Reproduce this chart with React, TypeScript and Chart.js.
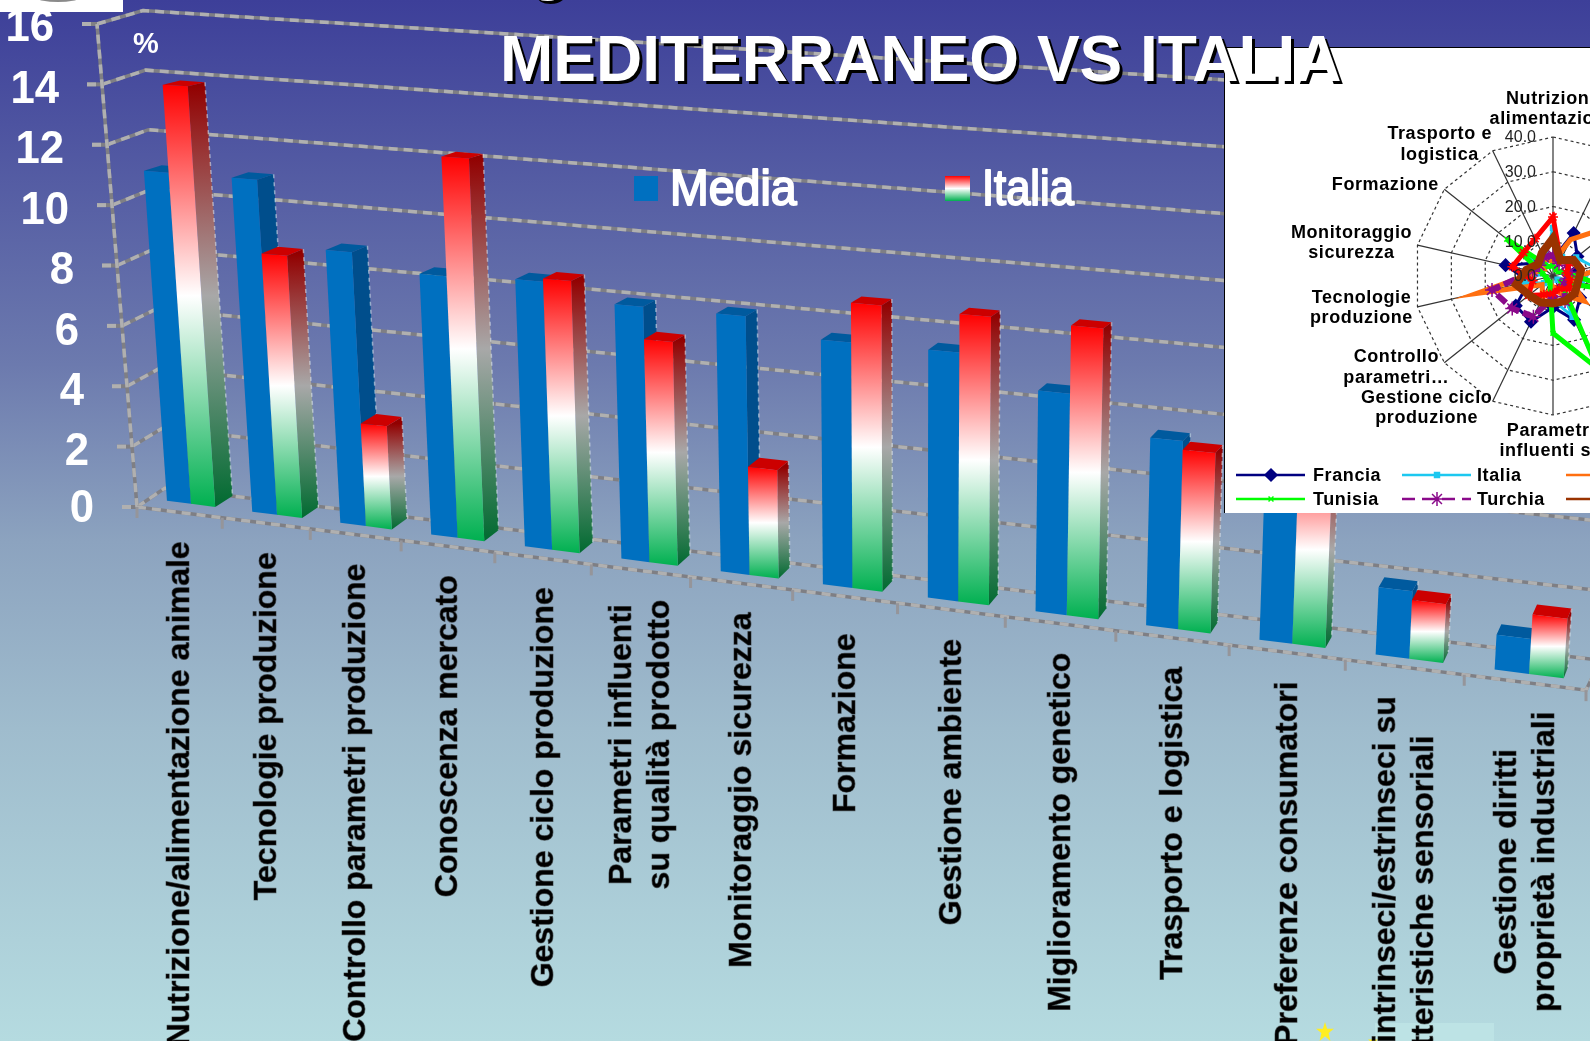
import React, { useEffect, useRef } from "react";
import { Chart, registerables } from "chart.js";
import { drawPoint } from "chart.js/helpers";

Chart.register(...registerables);

const categories = [
  "Nutrizione/alimentazione animale",
  "Tecnologie produzione",
  "Controllo parametri produzione",
  "Conoscenza mercato",
  "Gestione ciclo produzione",
  "Parametri influenti\nsu qualità prodotto",
  "Monitoraggio sicurezza",
  "Formazione",
  "Gestione ambiente",
  "Miglioramento genetico",
  "Trasporto e logistica",
  "Preferenze consumatori",
  "Fattori intrinseci/estrinseci su\ncaratteristiche sensoriali",
  "Gestione diritti\nproprietà industriali",
];
const mediaValues = [10.9, 10.9, 8.8, 8.3, 8.4, 7.9, 7.9, 7.4, 7.4, 6.5, 5.45, 5.0, 1.9, 0.97];
const italiaValues = [13.8, 8.5, 3.3, 12.1, 8.5, 6.9, 3.3, 8.6, 8.55, 8.5, 5.2, 5.5, 1.65, 1.65];

const radarLabels = [
  "Nutrizione\nalimentazione",
  "Preferenze\nconsumatori",
  "Miglioramento\ngenetico",
  "Conoscenza\nmercato",
  "Gestione\nambiente",
  "Gestione\ndiritti",
  "Fattori\nintrinseci",
  "Parametri\ninfluenti su",
  "Gestione ciclo\nproduzione",
  "Controllo\nparametri…",
  "Tecnologie\nproduzione",
  "Monitoraggio\nsicurezza",
  "Formazione",
  "Trasporto e\nlogistica",
];
const francia = [5, 13.7, 9, 7, 6, 10, 14, 9, 14.6, 13.7, 7, 14, 6, 6];
const italia = [13.8, 6, 8.5, 12, 8.5, 1.7, 13, 6.9, 8.5, 3.3, 8.5, 3.5, 8.6, 5.2];
const arancio = [4, 11.6, 24, 20, 5, 11.6, 6, 3, 7, 4, 22.5, 5, 3, 6];
const tunisia = [3, 2, 2, 4, 20, 3, 29.5, 16.5, 2, 2, 2, 3, 17, 3];
const turchia = [6, 4, 5, 5, 4, 4, 8, 6, 13, 15, 18, 6, 5, 6];
const rosso = [17, 5, 6, 4, 5, 6, 4, 5, 6, 9, 6, 12, 10.8, 11.9];
const mediaRadar = [10.9, 5, 7.5, 8.3, 7.4, 8, 8, 7.9, 8.4, 8.8, 10.9, 7.9, 5.5, 7.4];

const FONT = '"Liberation Sans", Arial, sans-serif';

const warp = (s: number) => 0.81 * s + 0.19 * s * s;
const axisX = (s: number) => 137 + 1449 * warp(s);
const axisY = (x: number) => 507 + 0.1264 * (x - 137);

function wallLine(v: number) {
  const startX = 165 - (22 * v) / 16;
  const yAt = (x: number) => 488 + 0.12 * (x - 165) - v * (29.75 + 0.0035 * (x - 165));
  return { x0: startX, y0: yAt(startX), x1: 1600, y1: yAt(1600) };
}

function greyStroke(ctx: CanvasRenderingContext2D, pts: number[][], w = 3.5) {
  ctx.save();
  ctx.lineWidth = w;
  ctx.strokeStyle = "#7f7f84";
  ctx.beginPath();
  pts.forEach((p, i) => (i ? ctx.lineTo(p[0], p[1]) : ctx.moveTo(p[0], p[1])));
  ctx.stroke();
  ctx.strokeStyle = "#b0b0b0";
  ctx.setLineDash([9, 6]);
  ctx.stroke();
  ctx.restore();
}

function poly(ctx: CanvasRenderingContext2D, pts: number[][], fill: string | CanvasGradient) {
  ctx.fillStyle = fill;
  ctx.beginPath();
  pts.forEach((p, i) => (i ? ctx.lineTo(p[0], p[1]) : ctx.moveTo(p[0], p[1])));
  ctx.closePath();
  ctx.fill();
}

const backdrop3d = {
  id: "backdrop3d",
  beforeDatasetsDraw(chart: any) {
    const ctx: CanvasRenderingContext2D = chart.ctx;
    const y = chart.scales.y;
    const x = chart.scales.x;
    ctx.save();
    for (const tick of y.ticks) {
      const v = tick.value;
      const fx = 137 - 2.5 * v;
      const fy = y.getPixelForValue(v);
      const w = wallLine(v);
      greyStroke(ctx, [[fx, fy], [w.x0, w.y0], [w.x1, w.y1]]);
      greyStroke(ctx, [[fx - 15, fy], [fx, fy]], 4);
      ctx.save();
      ctx.translate(fx - 43, fy + (v === 0 ? 2 : v === 16 ? 4 : 6));
      ctx.scale(0.95, 1);
      ctx.fillStyle = "#ffffff";
      ctx.font = `bold 46px ${FONT}`;
      ctx.textAlign = "right";
      ctx.textBaseline = "middle";
      ctx.fillText(String(v), 0, 0);
      ctx.restore();
    }
    greyStroke(ctx, [[137, y.getPixelForValue(0)], [137 - 40, y.getPixelForValue(16)]]);
    greyStroke(ctx, [[137, 507], [1586, axisY(1586)], [1592, 678]]);
    const n = categories.length;
    for (let i = 0; i <= n; i++) {
      const px = axisX(i / n);
      ctx.fillStyle = "#95959a";
      ctx.fillRect(px - 1.5, axisY(px), 3, 11);
    }
    ctx.font = `bold 32px ${FONT}`;
    ctx.textAlign = "center";
    ctx.textBaseline = "middle";
    ctx.lineJoin = "round";
    for (let i = 0; i < n; i++) {
      const lines = String(x.getLabelForValue(i)).split("\n");
      const cx = axisX((i + 0.5) / n);
      const top = axisY(cx) + 29 + (i === 7 ? 8 : 0);
      const maxW = Math.max(...lines.map((l) => ctx.measureText(l).width));
      const cy = top + maxW / 2;
      lines.forEach((l, k) => {
        ctx.save();
        ctx.translate(cx + 1 + (k - (lines.length - 1) / 2) * 38, cy);
        ctx.rotate(-Math.PI / 2);
        ctx.fillStyle = "#000000";
        ctx.strokeStyle = "rgba(40,40,40,0.55)";
        ctx.lineWidth = 1;
        ctx.fillText(l, 0, 0);
        ctx.strokeText(l, 0, 0);
        ctx.restore();
      });
    }
    ctx.fillStyle = "#ffffff";
    ctx.font = `bold 29px ${FONT}`;
    ctx.textAlign = "left";
    ctx.textBaseline = "alphabetic";
    ctx.fillText("%", 133, 53);
    // legend
    const swatches = [
      { x: 634, tx: 670, sx: 0.93 },
      { x: 945, tx: 982, sx: 0.87 },
    ];
    chart.data.datasets.forEach((ds: any, i: number) => {
      const sw = swatches[i];
      if (i === 0) {
        ctx.fillStyle = "#0070c0";
      } else {
        const g = ctx.createLinearGradient(0, 176, 0, 201);
        g.addColorStop(0, "#ff0000");
        g.addColorStop(0.5, "#ffffff");
        g.addColorStop(1, "#00b050");
        ctx.fillStyle = g;
      }
      ctx.fillRect(sw.x, 176, i === 0 ? 24 : 25, 25);
      ctx.save();
      ctx.translate(sw.tx, 205);
      ctx.scale(sw.sx, 1);
      ctx.font = `50px ${FONT}`;
      ctx.fillStyle = "#ffffff";
      ctx.strokeStyle = "#ffffff";
      ctx.lineWidth = 2;
      ctx.fillText(ds.label, 0, 0);
      ctx.strokeText(ds.label, 0, 0);
      ctx.restore();
    });
    ctx.restore();

    // bars, drawn in 3D from the scale's elements
    const area = chart.chartArea;
    const project = (px: number, value: number) => {
      const s = (px - area.left) / (area.right - area.left);
      const ax = axisX(s);
      const fx = ax + 12 - 8 * s;
      const by = axisY(ax) - 8.5;
      const h = value * (30.2 + 0.0042 * (ax - 137));
      const X = fx - h * (910 - fx) * 9.4e-5;
      const Y = by - h;
      return { X, Y, h, dx: 18 - 14 * s, dy: -11 + 0.0165 * h };
    };
    const m0 = chart.getDatasetMeta(0).data;
    const m1 = chart.getDatasetMeta(1).data;
    for (let i = 0; i < m0.length; i++) {
      [m0[i], m1[i]].forEach((el: any, d: number) => {
        const v = y.getValueForPixel(el.y);
        const l = el.x - el.width / 2;
        const r = el.x + el.width / 2;
        const tl = project(l, v);
        const tr = project(r, v);
        const bl = project(l, 0);
        const br = project(r, 0);
        let front: any = "#0070c0";
        let side: any = "#004e8c";
        let top: any = "#005a9e";
        if (d === 1) {
          const y0 = Math.min(tl.Y, tr.Y);
          const y1 = Math.max(bl.Y, br.Y);
          front = ctx.createLinearGradient(0, y0, 0, y1);
          front.addColorStop(0, "#ff0000");
          front.addColorStop(0.5, "#ffffff");
          front.addColorStop(1, "#00b050");
          side = ctx.createLinearGradient(0, y0, 0, y1);
          side.addColorStop(0, "#920000");
          side.addColorStop(0.5, "#a8a8a8");
          side.addColorStop(1, "#006a30");
          top = "#cc0000";
        }
        poly(ctx, [[tr.X, tr.Y], [tr.X + tr.dx, tr.Y + tr.dy], [br.X + br.dx, br.Y + br.dy], [br.X, br.Y]], side);
        poly(ctx, [[tl.X, tl.Y], [tr.X, tr.Y], [tr.X + tr.dx, tr.Y + tr.dy], [tl.X + tl.dx, tl.Y + tl.dy]], top);
        poly(ctx, [[tl.X, tl.Y], [tr.X, tr.Y], [br.X, br.Y], [bl.X, bl.Y]], front);
        ctx.save();
        ctx.strokeStyle = "rgba(225,235,240,0.55)";
        ctx.lineWidth = 1.5;
        ctx.setLineDash([4, 4]);
        ctx.beginPath();
        ctx.moveTo(tr.X + tr.dx, tr.Y + tr.dy);
        ctx.lineTo(br.X + br.dx, br.Y + br.dy);
        ctx.stroke();
        ctx.restore();
      });
    }
    return false;
  },
};

const radarDecor = {
  id: "radarDecor",
  afterDatasetsDraw(chart: any) {
    const ctx: CanvasRenderingContext2D = chart.ctx;
    const r = chart.scales.r;
    const OX = 1225;
    const OY = 48;
    ctx.save();
    ctx.fillStyle = "#222222";
    ctx.font = `16px ${FONT}`;
    ctx.textAlign = "right";
    ctx.textBaseline = "middle";
    for (const t of r.ticks) {
      const yy = r.yCenter - r.getDistanceFromCenterForValue(t.value);
      ctx.fillText(t.value.toFixed(1), r.xCenter - 17, yy + 1);
    }
    ctx.fillStyle = "#000000";
    ctx.font = `bold 18px ${FONT}`;
    (ctx as any).letterSpacing = "0.6px";
    ctx.textAlign = "center";
    // label centres, offset from each spoke's tip
    const offsets: Record<number, number[]> = {
      0: [0, -28],
      7: [-2, 26],
      8: [-66, 7],
      9: [-48, 5],
      10: [-56, 1],
      11: [-66, -2],
      12: [-59, -4],
      13: [-53, -6],
    };
    chart.data.labels.forEach((lab: string, i: number) => {
      const p = r.getPointPosition(i, r.drawingArea);
      const o = offsets[i] || [Math.sign(p.x - r.xCenter) * 60, 0];
      const lines = lab.split("\n");
      lines.forEach((l: string, k: number) => {
        ctx.fillText(l, p.x + o[0], p.y + o[1] + (k - (lines.length - 1) / 2) * 20.5);
      });
    });
    // legend
    const cols = [
      { line: 1236, text: 1313 },
      { line: 1402, text: 1477 },
      { line: 1566, text: 1643 },
    ];
    const order = [0, 1, 2, 3, 4, 6];
    ctx.textAlign = "left";
    order.forEach((dsIndex, n) => {
      const ds = chart.data.datasets[dsIndex];
      const c = cols[n % 3];
      const yy = (n < 3 ? 475 : 499) - OY;
      const x0 = c.line - OX;
      ctx.save();
      ctx.strokeStyle = ds.borderColor;
      ctx.fillStyle = ds.borderColor;
      ctx.lineWidth = 2.5;
      if (ds.borderDash) ctx.setLineDash([13, 7]);
      ctx.beginPath();
      ctx.moveTo(x0, yy);
      ctx.lineTo(x0 + 69, yy);
      ctx.stroke();
      ctx.setLineDash([]);
      if (ds.pointStyle && ds.pointRadius > 0) {
        ctx.lineWidth = 1.5;
        drawPoint(ctx, { pointStyle: ds.pointStyle, radius: ds.pointRadius, rotation: 0, borderWidth: 1.5 }, x0 + 35, yy);
      }
      ctx.restore();
      ctx.fillStyle = "#000000";
      ctx.fillText(ds.label, c.text - OX, yy + 1);
    });
    ctx.restore();
  },
};

const STAR = "polygon(50% 0,62% 35%,100% 35%,70% 58%,80% 100%,50% 75%,20% 100%,30% 58%,0 35%,38% 35%)";

export default function App() {
  const mainRef = useRef<HTMLCanvasElement>(null);
  const radarRef = useRef<HTMLCanvasElement>(null);

  useEffect(() => {
    const main = new Chart(mainRef.current as HTMLCanvasElement, {
      type: "bar",
      data: {
        labels: categories,
        datasets: [
          { label: "Media", data: mediaValues, backgroundColor: "#0070c0", categoryPercentage: 0.57, barPercentage: 1 },
          { label: "Italia", data: italiaValues, backgroundColor: "#ff0000", categoryPercentage: 0.57, barPercentage: 1 },
        ],
      },
      options: {
        responsive: false,
        animation: false,
        layout: { padding: { left: 137, right: 4, top: 24, bottom: 534 } },
        plugins: { legend: { display: false }, title: { display: false }, tooltip: { enabled: false } },
        scales: {
          x: { display: false, type: "category", ticks: { autoSkip: false } },
          y: { display: false, min: 0, max: 16, ticks: { stepSize: 2 } },
        },
      },
      plugins: [backdrop3d],
    } as any);

    const line = (label: string, data: number[], color: string, width: number, style: any, radius: number, order: number, extra: any = {}) => ({
      label,
      data,
      order,
      borderColor: color,
      backgroundColor: color,
      borderWidth: width,
      pointStyle: style,
      pointRadius: radius,
      pointBorderWidth: 1.5,
      pointBackgroundColor: color,
      pointBorderColor: color,
      fill: false,
      ...extra,
    });

    const radar = new Chart(radarRef.current as HTMLCanvasElement, {
      type: "radar",
      data: {
        labels: radarLabels,
        datasets: [
          line("Francia", francia, "#000080", 3, "rectRot", 6, 6),
          line("Italia", italia, "#1cc8f0", 3, "rect", 3.5, 5),
          line("Spagna", arancio, "#ff6f10", 5, false, 0, 4),
          line("Tunisia", tunisia, "#00ff00", 5, "crossRot", 3.5, 3),
          line("Turchia", turchia, "#8a0a8a", 6, "star", 7, 2, { borderDash: [12, 4] }),
          line("Grecia", rosso, "#ff0000", 5, "star", 5, 1),
          line("Media", mediaRadar, "#993300", 8, false, 0, 0),
        ],
      },
      options: {
        responsive: false,
        animation: false,
        layout: { padding: { top: 89.5, bottom: 97.5 } },
        plugins: { legend: { display: false }, title: { display: false }, tooltip: { enabled: false } },
        scales: {
          r: {
            min: 0,
            max: 40,
            ticks: { display: false, stepSize: 10 },
            pointLabels: { display: false },
            grid: { color: "#333333", lineWidth: 1.2 },
            border: { dash: [3, 3] },
            angleLines: { color: "#333333", lineWidth: 1.2 },
          },
        },
      },
      plugins: [radarDecor],
    } as any);

    return () => {
      main.destroy();
      radar.destroy();
    };
  }, []);

  return (
    <div
      style={{
        position: "absolute",
        left: 0,
        top: 0,
        width: 1590,
        height: 1041,
        overflow: "hidden",
        background: "linear-gradient(180deg, #3d3f99 0%, #6c7aae 35%, #8ca3bf 52%, #9fbccd 70%, #b5dbe0 100%)",
        fontFamily: FONT,
      }}
    >
      <div style={{ position: "absolute", left: 1375, top: 1023, width: 119, height: 18, background: "#bde3e5", zIndex: 0 }} />
      <canvas ref={mainRef} width={1590} height={1041} style={{ position: "absolute", left: 0, top: 0, zIndex: 1, width: 1590, height: 1041 }} />
      <div style={{ position: "absolute", left: 0, top: 0, width: 123, height: 12, background: "#ffffff", zIndex: 1 }} />
      <div style={{ position: "absolute", left: 37, top: -6, width: 42, height: 8, borderRadius: "50%", background: "#8a8a8a", zIndex: 2 }} />
      <div style={{ position: "absolute", left: 1316, top: 1022, width: 18, height: 19, background: "#ffee22", clipPath: STAR, zIndex: 2 }} />
      <div style={{ position: "absolute", left: 1368, top: 1036, width: 10, height: 10, background: "#ffee22", clipPath: STAR, zIndex: 0 }} />
      <div
        style={{
          position: "absolute",
          left: 1224,
          top: 47,
          width: 366,
          height: 466,
          boxSizing: "border-box",
          background: "#ffffff",
          borderLeft: "1px solid #000",
          borderTop: "1px solid #000",
          overflow: "hidden",
          zIndex: 3,
        }}
      >
        <canvas ref={radarRef} width={656} height={465} style={{ position: "absolute", left: 0, top: 0, width: 656, height: 465 }} />
      </div>
      <div style={{ position: "absolute", left: 529, top: -70, zIndex: 4, color: "#fff", fontWeight: 700, fontSize: 64, lineHeight: "72px", textShadow: "3px 3px 0 #000" }}>g</div>
      <div
        style={{
          position: "absolute",
          left: 500,
          top: 23,
          zIndex: 4,
          color: "#fff",
          fontWeight: 700,
          fontSize: 64,
          lineHeight: "72px",
          whiteSpace: "nowrap",
          textShadow: "3px 3px 0 #000",
        }}
      >
        MEDITERRANEO VS ITALIA
      </div>
    </div>
  );
}
